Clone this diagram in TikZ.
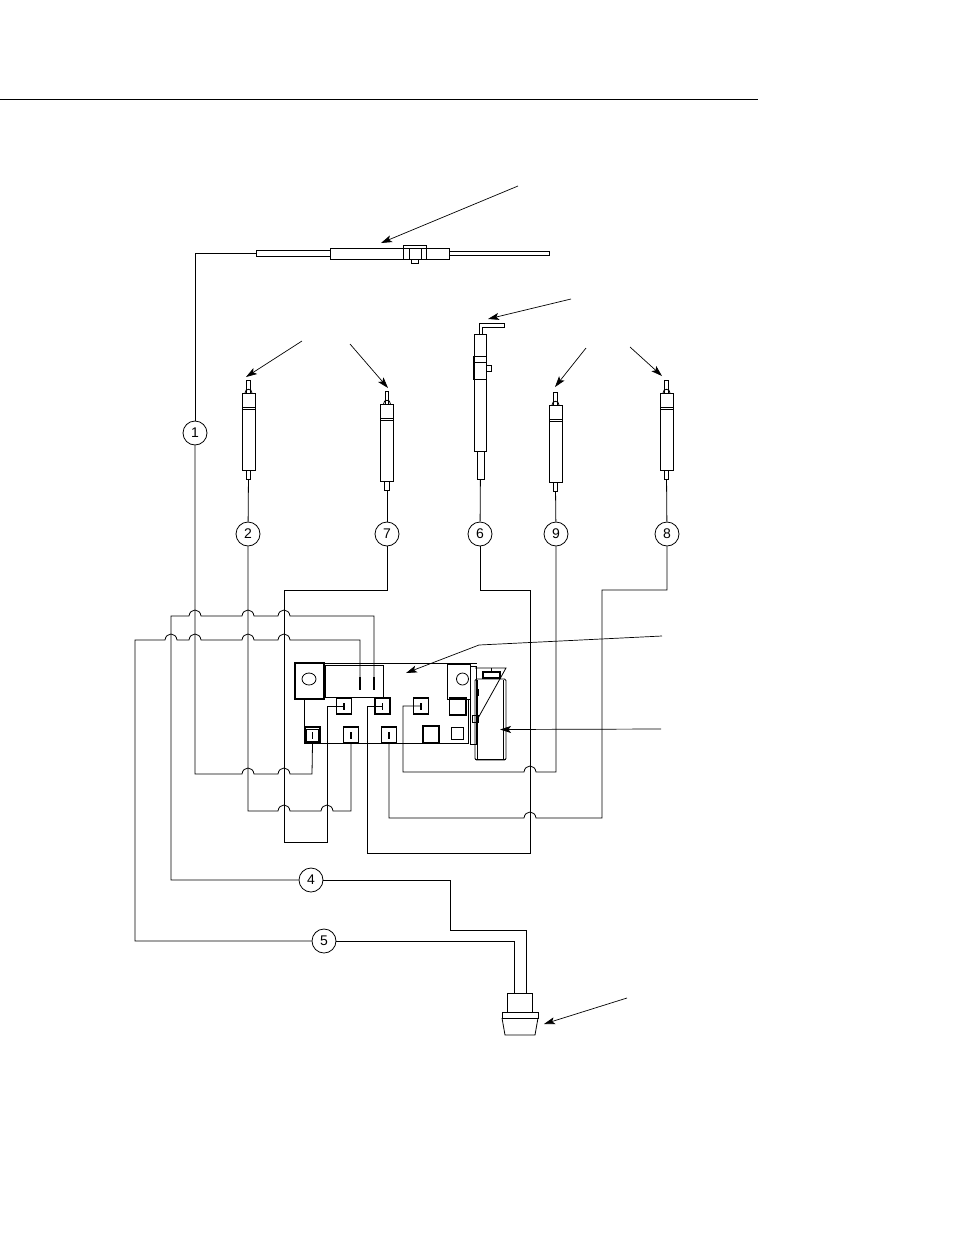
\documentclass[tikz,border=0pt]{standalone}
\usepackage{fontspec}
\setmainfont{Liberation Sans}
\usetikzlibrary{arrows.meta}

\newcommand{\hop}[2]{-- (#1-6,#2) .. controls (#1-5,#2-8) and (#1+5,#2-8) .. (#1+6,#2)}
\newcommand{\probe}[3]{
    \draw (#2-1.7,#3) rectangle (#2+1.7,#3+13);
    \draw (#2-3.5,#3+13) .. controls (#2-3.5,#3+8) and (#2+3.5,#3+8) .. (#2+3.5,#3+13);
    \draw (#2-6.5,#3+13) rectangle (#2+6.5,#3+27);
    \draw (#2-6.5,#3+29) rectangle (#2+6.5,#3+90);
    \draw (#2-6.5,#3+27) -- (#2-6.5,#3+29) (#2+6.5,#3+27) -- (#2+6.5,#3+29);
    \node[tail] (tail#1) at (#2,#3+94.5) {};
}

\begin{document}
\begin{tikzpicture}[x=1pt,y=-1pt,line width=0.8pt,
    num/.style={draw,shape=circle,minimum size=24pt,inner sep=0pt,font=\fontsize{14}{14}\selectfont},
    tail/.style={draw,inner sep=0pt,minimum width=4.5pt,minimum height=9pt},
    term/.style={draw,line width=1.3pt,inner sep=0pt,minimum width=15pt,minimum height=16pt},
    lead/.style={-{Stealth[length=11pt,width=7pt,inset=2.5pt]},line width=0.7pt}]
    \useasboundingbox (0,0) rectangle (954,1235);

    \draw (0,99) -- (758,99);

    % transducer
    \node[draw,inner sep=0pt,minimum width=74pt,minimum height=6pt] (lead1) at (293,253) {};
    \draw (330,248) rectangle (449,259);
    \draw (449,251) rectangle (549,255);
    \draw (403,245) rectangle (426,259);
    \draw (409,248) rectangle (421,259);
    \draw (411,259) rectangle (418,263);

    % probes
    \probe{2}{248.5}{380}
    \probe{7}{387}{391}
    \probe{9}{555.5}{392}
    \probe{8}{666.5}{380}

    \draw (479,334) -- (479,323) -- (504,323) -- (504,327) -- (482,327) -- (482,334);
    \draw (474,334) rectangle (486,451);
    \draw (473,356) rectangle (486,379);
    \draw (473,362) -- (486,362);
    \draw (486,365) rectangle (491,371);
    \node[draw,inner sep=0pt,minimum width=7pt,minimum height=28pt] (tail6) at (480.5,465) {};

    \node[num] (c1) at (195,433) {1};
    \node[num] (c2) at (248,534) {2};
    \node[num] (c7) at (387,534) {7};
    \node[num] (c6) at (480,534) {6};
    \node[num] (c9) at (556,534) {9};
    \node[num] (c8) at (667,534) {8};
    \node[num] (c4) at (311,880) {4};
    \node[num] (c5) at (324,941) {5};

    % board
    \draw[line width=1.1pt] (295,663) rectangle (324,699);
    \draw (325,665) rectangle (383,697);
    \draw (295,663) -- (477,663);
    \draw (304,699) -- (304,743) -- (468,743) -- (468,699);
    \draw (309,679) ellipse (7 and 6);
    \draw (447,664) rectangle (470,699);
    \draw (462.5,679) ellipse (6 and 6);
    \node[term] (t1) at (344,706) {};
    \node[term] (t2) at (382.5,706) {};
    \node[term] (t3) at (421,706) {};
    \node[term] (b1) at (312.5,735) {};
    \node[term] (b2) at (351,735) {};
    \node[term] (b3) at (389,735) {};
    \draw[line width=1.1pt] (449.5,698) rectangle (466,715);
    \draw[line width=1.1pt] (423,726) rectangle (439,743);
    \draw (451,727) rectangle (463,739);
    \draw (306.5,729) rectangle (318.5,741);
    \foreach \t in {t1,t2,t3,b1,b2,b3}
        \draw[line width=1.3pt] ([yshift=-3.5pt]\t.center) -- ([yshift=3.5pt]\t.center);
    \draw[line width=1.3pt] (360,677) -- (360,690) (374,677) -- (374,690);
    \coordinate (s1) at (360,677);
    \coordinate (s2) at (374,677);

    % battery
    \draw (470,666) rectangle (476,744);
    \draw[rounded corners=1.5pt] (475,679) rectangle (506,760);
    \draw (477.5,680) -- (477.5,759) (503.5,680) -- (503.5,759);
    \draw (475,668) -- (506,668) -- (477,720);
    \draw[line width=1.2pt] (483,672) rectangle (500,678);
    \draw (491,668) -- (491,672);
    \draw (476,689) rectangle (478,695);
    \draw (472,715) rectangle (478,722);
    \draw (475,759.5) -- (506,759.5);

    % plug
    \node[draw,inner sep=0pt,minimum width=25pt,minimum height=19pt] (plug) at (519.5,1002.5) {};
    \draw (507,1012) -- (502,1012) -- (502,1018) -- (538,1018) -- (538,1012) -- (532,1012);
    \draw (502,1018) -- (505,1035) -- (535,1035) -- (538,1018);
    \coordinate (p4) at (526,993);
    \coordinate (p5) at (514,993);

    % wires
    \draw (c1) -- (195,253) -- (lead1);
    \draw (c1) -- (195,774) \hop{248}{774} \hop{284}{774} -- (312,774) -- (b1.south);
    \draw (tail2) -- (c2);
    \draw (c2) -- (248,811) \hop{284}{811} \hop{327}{811} -- (351,811) -- (b2.south);
    \draw (tail7) -- (c7);
    \draw (c7) -- (387,590) -- (284,590) -- (284,842) -- (327,842) -- (327,706) -- (t1.center);
    \draw (tail6) -- (c6);
    \draw (c6) -- (480,590) -- (530,590) -- (530,853) -- (367,853) -- (367,706) -- (t2.center);
    \draw (tail9) -- (c9);
    \draw (t3.center) -- (403,706) -- (403,772) \hop{530}{772} -- (556,772) -- (c9);
    \draw (tail8) -- (c8);
    \draw (b3.south) -- (389,818) \hop{530}{818} -- (602,818) -- (602,590) -- (667,590) -- (c8);
    \draw (c4) -- (171,880) -- (171,616) \hop{195}{616} \hop{248}{616} \hop{284}{616} -- (374,616) -- (s2);
    \draw (c5) -- (135,941) -- (135,640) \hop{171}{640} \hop{195}{640} \hop{248}{640} \hop{284}{640} -- (360,640) -- (s1);
    \draw (c4) -- (450,880) -- (450,930) -- (526,930) -- (p4);
    \draw (c5) -- (514,941) -- (p5);

    % pointers
    \coordinate (a1) at (518,186);  \coordinate (h1) at (381,243);
    \coordinate (a2) at (302,341);  \coordinate (h2) at (246,377);
    \coordinate (a3) at (350,344);  \coordinate (h3) at (388,388);
    \coordinate (a4) at (571,299);  \coordinate (h4) at (488,319);
    \coordinate (a5) at (586,348);  \coordinate (h5) at (555,387);
    \coordinate (a6) at (630,347);  \coordinate (h6) at (662,376);
    \coordinate (a7) at (662,636);  \coordinate (k7) at (479,645);  \coordinate (h7) at (406,673);
    \coordinate (a8) at (661,729);  \coordinate (h8) at (500,729.5);
    \coordinate (a9) at (627,998);  \coordinate (h9) at (544,1024);
    \foreach \s/\e in {a1/h1,a2/h2,a3/h3,a4/h4,a5/h5,a6/h6,a8/h8,a9/h9}
        \draw[lead] (\s) -- (\e);
    \draw[lead] (a7) -- (k7) -- (h7);
\end{tikzpicture}
\end{document}
